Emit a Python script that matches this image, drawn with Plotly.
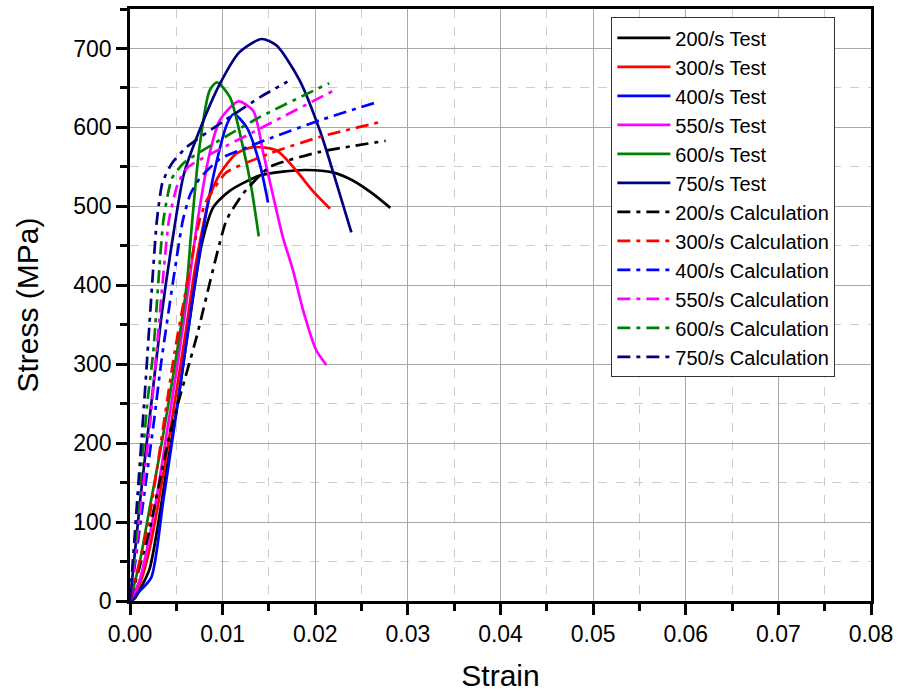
import plotly.graph_objects as go

# ---- data (strain, stress MPa) ----
test_200_x = [0, 0.0005, 0.0011, 0.0021, 0.003, 0.004, 0.005, 0.006, 0.007, 0.0078, 0.009, 0.0108, 0.014, 0.0165, 0.019, 0.0219, 0.024, 0.0262, 0.0281]
test_200_y = [0, 3, 15, 40, 95, 170, 240, 320, 400, 455, 499, 520, 539, 544, 546, 543, 533, 516, 498]

test_300_x = [0, 0.001, 0.002, 0.003, 0.004, 0.005, 0.006, 0.007, 0.0078, 0.0086, 0.0097, 0.0115, 0.0133, 0.0158, 0.0179, 0.0197, 0.0216]
test_300_y = [0, 20, 60, 120, 190, 265, 340, 420, 470, 512, 541, 567, 575, 571, 546, 520, 497]

test_400_x = [0, 0.001, 0.0023, 0.0036, 0.0052, 0.0066, 0.0079, 0.0093, 0.0105, 0.0112, 0.0126, 0.014, 0.0149]
test_400_y = [0, 12, 30, 128, 254, 370, 470, 554, 605, 617, 600, 554, 505]

test_550_x = [0, 0.001, 0.002, 0.003, 0.004, 0.005, 0.006, 0.0073, 0.0086, 0.0097, 0.0117, 0.0133, 0.0144, 0.0154, 0.0165, 0.0176, 0.0187, 0.0201, 0.0212]
test_550_y = [0, 25, 75, 140, 215, 290, 370, 482, 567, 609, 633, 621, 567, 516, 461, 419, 368, 318, 299]

test_600_x = [0, 0.0011, 0.002, 0.0036, 0.0061, 0.0066, 0.0075, 0.0086, 0.0094, 0.0108, 0.0122, 0.0131, 0.0139]
test_600_y = [0, 52, 110, 212, 398, 466, 575, 647, 657, 638, 575, 524, 462]

test_750_x = [0, 0.0011, 0.0023, 0.0035, 0.0047, 0.0058, 0.0075, 0.0097, 0.0118, 0.0142, 0.0158, 0.0183, 0.0205, 0.0222, 0.0239]
test_750_y = [0, 128, 250, 370, 466, 540, 596, 655, 695, 712, 704, 660, 596, 533, 467]

calc_200_x = [0, 0.002, 0.0043, 0.0072, 0.0104, 0.0122, 0.0151, 0.0205, 0.0276]
calc_200_y = [0, 85, 212, 335, 482, 516, 550, 569, 583]

calc_300_x = [0, 0.002, 0.0048, 0.0075, 0.0083, 0.0104, 0.0151, 0.0205, 0.0271]
calc_300_y = [0, 100, 314, 482, 508, 543, 567, 588, 607]

calc_400_x = [0, 0.0026, 0.0034, 0.0057, 0.0065, 0.0075, 0.0097, 0.0151, 0.0205, 0.0264]
calc_400_y = [0, 229, 305, 482, 515, 535, 560, 586, 609, 631]

calc_550_x = [0, 0.0022, 0.0042, 0.0052, 0.0063, 0.0133, 0.0222]
calc_550_y = [0, 229, 482, 530, 550, 594, 648]

calc_600_x = [0, 0.0019, 0.0025, 0.0036, 0.0045, 0.0058, 0.0097, 0.014, 0.0215]
calc_600_y = [0, 254, 314, 482, 535, 555, 584, 613, 656]

calc_750_x = [0, 0.0016, 0.0029, 0.0035, 0.0045, 0.006, 0.01, 0.014, 0.017]
calc_750_y = [0, 263, 482, 530, 554, 574, 607, 638, 658]

rates = ["200/s", "300/s", "400/s", "550/s", "600/s", "750/s"]
colors = ["#000000", "#ff0000", "#0000ff", "#ff00ff", "#008000", "#000080"]
tests = [(test_200_x, test_200_y), (test_300_x, test_300_y), (test_400_x, test_400_y),
         (test_550_x, test_550_y), (test_600_x, test_600_y), (test_750_x, test_750_y)]
calcs = [(calc_200_x, calc_200_y), (calc_300_x, calc_300_y), (calc_400_x, calc_400_y),
         (calc_550_x, calc_550_y), (calc_600_x, calc_600_y), (calc_750_x, calc_750_y)]

fig = go.Figure()
for r, c, (x, y) in zip(rates, colors, tests):
    fig.add_trace(go.Scatter(x=x, y=y, mode="lines", name=f"{r} Test",
                             line=dict(color=c, width=2.7, shape="spline", smoothing=0.7)))
for r, c, (x, y) in zip(rates, colors, calcs):
    fig.add_trace(go.Scatter(x=x, y=y, mode="lines", name=f"{r} Calculation",
                             line=dict(color=c, width=2.7, dash="13px,6px,4px,6px",
                                       shape="spline", smoothing=0.5)))

font_family = "Liberation Sans, Arial, sans-serif"
axis_common = dict(
    showline=True, linecolor="black", linewidth=2.5, mirror=True,
    ticks="outside", ticklen=11, tickwidth=2.5, tickcolor="black",
    showgrid=True, gridcolor="#a8a8a8", gridwidth=1,
    zeroline=False, automargin=False,
    tickfont=dict(family=font_family, size=23, color="black"),
)
fig.update_xaxes(
    range=[0, 0.08], dtick=0.01, tickformat=".2f",
    minor=dict(dtick=0.005, ticks="outside", ticklen=7, tickwidth=2.5, tickcolor="black",
               showgrid=True, gridcolor="#cccccc", griddash="dash", gridwidth=1),
    title=dict(text="Strain", font=dict(family=font_family, size=30, color="black"), standoff=22),
    **axis_common,
)
fig.update_yaxes(
    range=[0, 750], dtick=100,
    minor=dict(dtick=50, ticks="outside", ticklen=7, tickwidth=2.5, tickcolor="black",
               showgrid=True, gridcolor="#cccccc", griddash="dash", gridwidth=1),
    title=dict(text="Stress (MPa)", font=dict(family=font_family, size=30, color="black"), standoff=26),
    **axis_common,
)
fig.update_layout(
    width=900, height=692,
    margin=dict(l=130, r=29, t=9, b=91),
    paper_bgcolor="white", plot_bgcolor="white",
    font=dict(family=font_family, color="black"),
    legend=dict(x=0.6496, y=0.986, xanchor="left", yanchor="top",
                bgcolor="white", bordercolor="#333333", borderwidth=1,
                font=dict(family=font_family, size=20, color="black"),
                itemwidth=53, tracegroupgap=0, entrywidth=212, entrywidthmode="pixels"),
    showlegend=True,
)
fig.write_html("out.html")
